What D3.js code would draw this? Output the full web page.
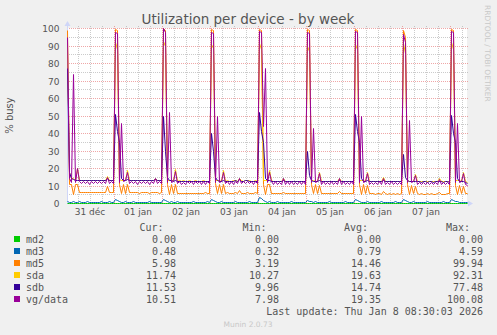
<!DOCTYPE html>
<html>
<head>
<meta charset="utf-8">
<script src="https://cdn.jsdelivr.net/npm/d3@7"></script>
<style>
html, body { margin: 0; padding: 0; background: #F0F0F0; }
svg { display: block; }
</style>
</head>
<body>
<div id="chart"></div>
<script>
// one value per hour, from 31 Dec 00:30 to 8 Jan 08:30 (rows = days)
const startTime = Date.UTC(2025, 11, 31, 0, 30);
const endTime = Date.UTC(2026, 0, 8, 8, 30);
const stepMs = 3600 * 1000;

const md2Values = [].concat(
    [0,0,0,0,0,0,0,0,0,0,0,0,0,0,0,0,0,0,0,0,0,0,0,0],
    [0,0,0,0,0,0,0,0,0,0,0,0,0,0,0,0,0,0,0,0,0,0,0,0],
    [0,0,0,0,0,0,0,0,0,0,0,0,0,0,0,0,0,0,0,0,0,0,0,0],
    [0,0,0,0,0,0,0,0,0,0,0,0,0,0,0,0,0,0,0,0,0,0,0,0],
    [0,0,0,0,0,0,0,0,0,0,0,0,0,0,0,0,0,0,0,0,0,0,0,0],
    [0,0,0,0,0,0,0,0,0,0,0,0,0,0,0,0,0,0,0,0,0,0,0,0],
    [0,0,0,0,0,0,0,0,0,0,0,0,0,0,0,0,0,0,0,0,0,0,0,0],
    [0,0,0,0,0,0,0,0,0,0,0,0,0,0,0,0,0,0,0,0,0,0,0,0],
    [0,0,0,0,0,0,0,0,0]
);

const md3Values = [].concat(
    [1.2, 0.8, 0.5, 0.9, 0.4, 0.5, 0.9, 0.4, 0.5, 0.4, 0.9, 0.4, 0.5, 0.4, 0.8, 0.5, 0.4, 0.9, 0.5, 0.4, 0.5, 0.9, 0.4, 0.5],
    [2.3, 1.8, 1.2, 0.8, 0.5, 0.9, 0.4, 0.5, 0.4, 0.9, 0.5, 0.4, 0.5, 0.8, 0.4, 0.5, 0.4, 0.9, 0.5, 0.4, 0.8, 0.5, 0.4, 0.5],
    [2.2, 1.5, 1.0, 0.6, 0.9, 0.4, 0.5, 0.9, 0.4, 0.5, 0.4, 0.8, 0.5, 0.4, 0.5, 0.9, 0.4, 0.5, 0.4, 0.8, 0.5, 0.4, 0.9, 0.5],
    [2.3, 1.6, 1.1, 0.7, 0.5, 0.9, 0.4, 0.5, 0.8, 0.4, 0.5, 0.4, 0.9, 0.5, 0.4, 0.5, 0.8, 0.4, 0.5, 0.9, 0.4, 0.5, 0.4, 0.8],
    [3.6, 2.6, 1.6, 1.0, 0.6, 0.9, 0.4, 0.5, 0.4, 0.9, 0.5, 0.4, 0.5, 0.8, 0.4, 0.5, 0.9, 0.4, 0.5, 0.4, 0.8, 0.5, 0.4, 0.5],
    [2.0, 1.4, 0.9, 0.5, 0.9, 0.4, 0.5, 0.4, 0.8, 0.5, 0.4, 0.9, 0.5, 0.4, 0.5, 0.8, 0.4, 0.5, 0.4, 0.9, 0.5, 0.4, 0.5, 0.8],
    [2.4, 1.8, 1.2, 0.8, 0.5, 0.4, 0.9, 0.5, 0.4, 0.5, 0.8, 0.4, 0.5, 0.9, 0.4, 0.5, 0.4, 0.8, 0.5, 0.4, 0.9, 0.5, 0.4, 0.5],
    [2.1, 1.5, 1.0, 0.6, 0.5, 0.9, 0.4, 0.5, 0.4, 0.8, 0.5, 0.4, 0.9, 0.5, 0.4, 0.5, 0.8, 0.4, 0.5, 0.4, 0.9, 0.5, 0.4, 0.5],
    [2.5, 1.9, 1.4, 0.9, 0.6, 0.4, 0.5, 0.4, 0.48]
);

const md5Values = [].concat(
    [99, 11, 11, 5, 11, 11, 6.5, 6.3, 6.4, 6.2, 6.5, 6.3, 6.4, 6.2, 6.3, 6.5, 6.2, 6.4, 6.3, 6.5, 9.5, 6.4, 6.3, 6.2],
    [99.5, 99, 11, 5.5, 11, 6, 11, 6.2, 6.3, 6.1, 6.4, 6.2, 6.0, 6.3, 6.1, 6.4, 6.2, 6.0, 6.3, 6.1, 6.4, 6.2, 6.0, 6.2],
    [99.9, 99, 11, 5, 11, 6, 11, 5.8, 5.9, 5.6, 5.8, 5.5, 5.7, 5.9, 5.6, 5.8, 5.5, 5.7, 5.9, 5.6, 5.8, 6.5, 5.9, 5.7],
    [99.5, 99, 11.5, 5.5, 11, 6, 11, 5.9, 6.1, 5.8, 6.0, 5.7, 6.2, 5.9, 7.5, 5.8, 6.0, 5.7, 6.1, 5.9, 6.0, 5.8, 6.2, 6.0],
    [99.5, 99, 11, 5, 11, 11, 6, 5.9, 5.7, 6.0, 5.8, 5.6, 6.5, 5.8, 5.7, 5.9, 5.6, 5.8, 5.7, 5.9, 5.6, 5.8, 5.7, 5.9],
    [99.5, 99, 11, 5.5, 11, 6, 10.5, 5.8, 5.6, 5.9, 5.7, 5.5, 5.8, 5.6, 5.9, 5.7, 6.8, 5.6, 5.8, 5.5, 5.7, 5.9, 5.6, 5.8],
    [99.5, 99, 11, 5, 11, 6, 10.5, 5.6, 5.5, 5.7, 5.4, 5.6, 5.5, 5.3, 6.6, 5.5, 5.4, 5.6, 5.3, 5.5, 5.4, 5.6, 5.3, 5.5],
    [99, 95, 11, 5, 10.5, 6, 10, 5.5, 5.3, 5.6, 5.4, 5.2, 5.5, 5.3, 5.6, 5.4, 5.2, 5.5, 6.5, 5.3, 5.4, 5.2, 5.5, 5.6],
    [99.5, 99, 10.5, 5, 10.5, 6, 10, 5.8, 5.98]
);

const sdaValues = [].concat(
    [90, 18, 14, 14, 13.3, 20, 13.3, 13.1, 13.2, 13.1, 13.3, 13.0, 13.2, 13.1, 13.3, 13.1, 13.2, 13.0, 13.3, 13.1, 15.5, 13.2, 13.1, 13.2],
    [92, 88, 13.5, 13.4, 13.3, 13.3, 19, 13.2, 13.1, 13.3, 13.0, 13.2, 13.1, 13.3, 13.0, 13.1, 13.2, 13.0, 13.1, 13.2, 14.2, 13.1, 13.0, 13.1],
    [92.3, 89.5, 13.3, 13.2, 13.0, 12.9, 19.3, 12.8, 12.9, 12.7, 12.9, 12.8, 12.7, 12.9, 12.8, 12.7, 12.9, 12.8, 12.7, 12.8, 12.9, 12.7, 12.8, 12.7],
    [91, 88.5, 13.1, 13.1, 12.9, 12.8, 18.8, 12.7, 12.9, 12.8, 12.7, 12.9, 13.0, 12.8, 14.3, 12.9, 12.8, 13.0, 13.2, 12.9, 12.8, 12.7, 12.9, 12.8],
    [91.5, 88, 13.2, 13.0, 13.1, 18.8, 12.9, 12.7, 12.8, 12.6, 12.7, 12.8, 14.2, 12.7, 12.6, 12.7, 12.8, 12.6, 12.7, 12.5, 12.7, 12.6, 12.7, 12.6],
    [90, 87, 13.1, 12.9, 12.8, 12.7, 17.8, 12.6, 12.7, 12.5, 12.6, 12.7, 12.6, 12.5, 12.7, 12.6, 14.0, 12.6, 12.7, 12.5, 12.6, 12.7, 12.5, 12.6],
    [91, 88, 13.1, 12.9, 12.9, 12.7, 17.8, 12.5, 12.6, 12.4, 12.6, 12.5, 12.7, 12.4, 14.8, 12.5, 12.6, 12.4, 12.5, 12.6, 12.4, 12.5, 12.6, 12.4],
    [91.4, 86, 13.0, 12.7, 12.6, 12.5, 16.8, 12.4, 12.5, 12.3, 12.5, 12.4, 12.3, 12.5, 12.4, 12.3, 12.4, 12.5, 14.2, 12.4, 12.3, 12.4, 12.5, 12.3],
    [92, 88, 13.0, 12.9, 12.9, 12.6, 17.8, 12.3, 11.74]
);

const sdbValues = [].concat(
    [77, 18, 14, 13.5, 13.2, 13.4, 13.2, 13.0, 13.1, 13.0, 13.2, 12.9, 13.1, 13.0, 13.2, 13.0, 13.1, 12.9, 13.2, 13.0, 14.0, 13.1, 13.0, 13.1],
    [51, 41, 35, 14, 13.3, 13.2, 13.6, 13.1, 13.0, 13.2, 12.9, 13.1, 13.0, 13.2, 12.9, 13.0, 13.1, 12.9, 13.0, 13.1, 13.6, 13.0, 12.9, 13.0],
    [50, 30, 15, 13.2, 12.9, 12.8, 13.2, 12.7, 12.8, 12.6, 12.8, 12.7, 12.6, 12.8, 12.7, 12.6, 12.8, 12.7, 12.6, 12.7, 12.8, 12.6, 12.7, 12.6],
    [40, 30, 15, 13.0, 12.8, 12.7, 13.0, 12.6, 12.8, 12.7, 12.6, 12.8, 12.9, 12.7, 13.5, 12.8, 12.7, 12.9, 13.1, 12.8, 12.7, 12.6, 12.8, 12.7],
    [52, 41, 35, 14, 13.0, 13.2, 12.8, 12.6, 12.7, 12.5, 12.6, 12.7, 13.2, 12.6, 12.5, 12.6, 12.7, 12.5, 12.6, 12.4, 12.6, 12.5, 12.6, 12.5],
    [30, 16, 13, 12.8, 12.7, 12.6, 12.9, 12.5, 12.6, 12.4, 12.5, 12.6, 12.5, 12.4, 12.6, 12.5, 13.2, 12.5, 12.6, 12.4, 12.5, 12.6, 12.4, 12.5],
    [51, 41, 35, 14, 12.8, 12.6, 12.9, 12.4, 12.5, 12.3, 12.5, 12.4, 12.6, 12.3, 13.0, 12.4, 12.5, 12.3, 12.4, 12.5, 12.3, 12.4, 12.5, 12.3],
    [28, 15, 13, 12.6, 12.5, 12.4, 12.8, 12.3, 12.4, 12.2, 12.4, 12.3, 12.2, 12.4, 12.3, 12.2, 12.3, 12.4, 12.8, 12.3, 12.2, 12.3, 12.4, 12.2],
    [50.5, 40, 35, 14, 12.8, 12.5, 12.6, 12.2, 11.53]
);

const vgDataValues = [].concat(
    [95, 14, 12, 74, 12, 20, 12.5, 11.2, 12.6, 11.3, 12.4, 11.0, 12.5, 11.4, 12.6, 11.2, 12.3, 11.5, 12.8, 11.3, 15.0, 11.6, 12.5, 11.4],
    [98, 97, 12, 46, 12.3, 13, 18, 11.5, 12.6, 11.2, 12.4, 11.0, 12.7, 11.4, 12.5, 11.3, 12.4, 11.1, 12.8, 11.5, 14.0, 11.4, 12.5, 11.2],
    [100, 98, 12, 52, 12.2, 12.8, 18.5, 11.3, 12.4, 11.0, 12.2, 10.9, 12.6, 11.2, 12.3, 11.0, 12.5, 11.3, 12.4, 11.1, 12.3, 11.0, 12.6, 11.3],
    [98, 97, 12, 50, 12.0, 12.6, 18, 11.2, 12.5, 11.0, 12.3, 11.1, 12.6, 11.3, 14.0, 11.2, 12.5, 11.4, 12.7, 11.2, 12.4, 11.0, 12.6, 11.3],
    [98.5, 98, 44, 77, 12.0, 18, 12.3, 11.0, 12.4, 10.9, 12.2, 11.1, 14.0, 11.0, 12.3, 10.8, 12.4, 11.0, 12.2, 10.9, 12.3, 11.1, 12.4, 10.9],
    [97.5, 97, 12, 43, 12.1, 12.6, 17, 11.0, 12.3, 10.8, 12.2, 10.9, 12.4, 11.0, 12.2, 10.8, 14.0, 10.9, 12.3, 11.0, 12.2, 10.8, 12.4, 11.0],
    [98.5, 98, 12, 50, 12.0, 12.5, 17, 10.9, 12.2, 10.7, 12.1, 10.8, 12.3, 10.9, 14.2, 10.8, 12.2, 10.7, 12.3, 10.9, 12.1, 10.7, 12.2, 10.8],
    [96.5, 92, 12, 47.5, 11.8, 12.3, 16, 10.8, 12.1, 10.6, 12.0, 10.7, 12.2, 10.8, 12.0, 10.6, 12.1, 10.7, 13.5, 10.8, 12.0, 10.6, 12.1, 10.7],
    [98.5, 98, 12, 45.7, 12.0, 12.3, 17, 11.0, 10.51]
);

const seriesNames = ["md2", "md3", "md5", "sda", "sdb", "vg/data"];
const seriesColors = ["#00CC00", "#0066B3", "#FF8000", "#FFCC00", "#330099", "#990099"];
const seriesValues = [md2Values, md3Values, md5Values, sdaValues, sdbValues, vgDataValues];

const legendCur = ["0.00", "0.48", "5.98", "11.74", "11.53", "10.51"];
const legendMin = ["0.00", "0.32", "3.19", "10.27", "9.96", "7.98"];
const legendAvg = ["0.00", "0.79", "14.46", "19.63", "14.74", "19.35"];
const legendMax = ["0.00", "4.59", "99.94", "92.31", "77.48", "100.08"];

const xTickLabels = ["31 déc", "01 jan", "02 jan", "03 jan", "04 jan", "05 jan", "06 jan", "07 jan"];
const yTicks = [0, 10, 20, 30, 40, 50, 60, 70, 80, 90, 100];

const width = 497, height = 335;
const plot = { left: 67, right: 467, top: 28, bottom: 203 };
const sans = "'DejaVu Sans', sans-serif";
const mono = "'DejaVu Sans Mono', monospace";
const fontColor = "#555555";
const axisColor = "#CFD6F8";

let svg = d3.select("#chart")
    .append("svg")
    .attr("width", width)
    .attr("height", height)
    .style("background", "#F0F0F0");

//=================================================
// Scales
//=================================================
let scaleX = d3.scaleTime()
    .domain([new Date(startTime), new Date(endTime)])
    .range([plot.left, plot.right]);
let scaleY = d3.scaleLinear()
    .domain([0, 100])
    .range([plot.bottom, plot.top]);

//=================================================
// Canvas + grid
//=================================================
svg.append("rect")
    .attr("x", plot.left).attr("y", plot.top)
    .attr("width", plot.right - plot.left).attr("height", plot.bottom - plot.top)
    .attr("fill", "#FFFFFF");

let grid = svg.append("g");
let minorX = d3.utcHour.every(6).range(new Date(startTime), new Date(endTime));
grid.selectAll(".vminor").data(minorX).enter().append("line")
    .attr("x1", d => Math.round(scaleX(d)) + 0.5).attr("x2", d => Math.round(scaleX(d)) + 0.5)
    .attr("y1", plot.top - 2).attr("y2", plot.bottom)
    .attr("stroke", d => d.getUTCHours() === 0 ? "rgba(224,80,80,0.5)" : "rgba(140,140,140,0.45)")
    .attr("stroke-dasharray", "1,1");

let minorY = d3.range(5, 101, 5);
grid.selectAll(".hminor").data(minorY).enter().append("line")
    .attr("x1", plot.left).attr("x2", plot.right + 1)
    .attr("y1", d => Math.round(scaleY(d)) + 0.5).attr("y2", d => Math.round(scaleY(d)) + 0.5)
    .attr("stroke", d => d % 10 === 0 ? "rgba(224,80,80,0.5)" : "rgba(140,140,140,0.45)")
    .attr("stroke-dasharray", "1,1");

//=================================================
// Axes with arrows
//=================================================
svg.append("line")
    .attr("x1", plot.left + 0.5).attr("x2", plot.left + 0.5)
    .attr("y1", plot.bottom + 0.5).attr("y2", 25)
    .attr("stroke", axisColor);
svg.append("path")
    .attr("d", `M${plot.left - 2.5},26 L${plot.left + 0.5},21 L${plot.left + 3.5},26 Z`)
    .attr("fill", axisColor);
svg.append("line")
    .attr("x1", plot.left).attr("x2", 469)
    .attr("y1", plot.bottom + 0.5).attr("y2", plot.bottom + 0.5)
    .attr("stroke", axisColor);
svg.append("path")
    .attr("d", `M468,${plot.bottom - 2.5} L473,${plot.bottom + 0.5} L468,${plot.bottom + 3.5} Z`)
    .attr("fill", axisColor);

svg.append("g").selectAll("text").data(yTicks).enter().append("text")
    .attr("x", 59.5)
    .attr("y", d => Math.round(scaleY(d)) + 3.5)
    .attr("text-anchor", "end")
    .attr("font-family", sans).attr("font-size", 9)
    .attr("fill", fontColor)
    .text(d => d);

svg.append("g").selectAll("text").data(xTickLabels).enter().append("text")
    .attr("x", (d, i) => scaleX(new Date(Date.UTC(2025, 11, 31 + i, 12))))
    .attr("y", 215)
    .attr("text-anchor", "middle")
    .attr("font-family", sans).attr("font-size", 9)
    .attr("fill", fontColor)
    .text(d => d);

//=================================================
// Series lines (snapped to pixel centres like rrdtool)
//=================================================
let line = d3.line()
    .x((d, i) => Math.round(scaleX(new Date(startTime + i * stepMs))) + 0.5)
    .y(d => Math.round(scaleY(d)) + 0.5);

let lines = svg.append("g");
seriesValues.forEach((values, k) => {
    lines.append("path")
        .attr("d", line(values))
        .attr("fill", "none")
        .attr("stroke", seriesColors[k])
        .attr("stroke-width", 1);
});

//=================================================
// Titles
//=================================================
svg.append("text")
    .attr("x", 248).attr("y", 24)
    .attr("text-anchor", "middle")
    .attr("font-family", sans).attr("font-size", 13.5)
    .attr("fill", fontColor)
    .text("Utilization per device - by week");

svg.append("text")
    .attr("transform", "translate(13," + ((plot.top + plot.bottom) / 2) + ") rotate(-90)")
    .attr("text-anchor", "middle")
    .attr("font-family", sans).attr("font-size", 10)
    .attr("fill", fontColor)
    .text("% busy");

svg.append("text")
    .attr("transform", "translate(485,5) rotate(90)")
    .attr("font-family", sans).attr("font-size", 7.5)
    .attr("fill", "#C8C8C8")
    .text("RRDTOOL / TOBI OETIKER");

//=================================================
// Legend
//=================================================
let legend = svg.append("g")
    .attr("font-family", mono).attr("font-size", 10)
    .attr("fill", fontColor)
    .style("white-space", "pre");

let headers = ["Cur:", "Min:", "Avg:", "Max:"];
let headerX = [163.5, 266.5, 368, 470];
let valueX = [176, 279, 381, 483];
headers.forEach((h, j) => {
    legend.append("text").attr("x", headerX[j]).attr("y", 231)
        .attr("text-anchor", "end").text(h);
});

let columns = [legendCur, legendMin, legendAvg, legendMax];
seriesNames.forEach((name, k) => {
    let rowY = 243 + k * 12;
    legend.append("rect")
        .attr("x", 14).attr("y", rowY - 7)
        .attr("width", 6).attr("height", 6)
        .attr("fill", seriesColors[k]);
    legend.append("text").attr("x", 26).attr("y", rowY).text(name);
    columns.forEach((col, j) => {
        legend.append("text").attr("x", valueX[j]).attr("y", rowY)
            .attr("text-anchor", "end").text(col[k]);
    });
});

legend.append("text").attr("x", 483).attr("y", 315)
    .attr("text-anchor", "end")
    .text("Last update: Thu Jan  8 08:30:03 2026");

svg.append("text")
    .attr("x", 248).attr("y", 327)
    .attr("text-anchor", "middle")
    .attr("font-family", sans).attr("font-size", 7.5)
    .attr("fill", "#C8C8C8")
    .text("Munin 2.0.73");
</script>
</body>
</html>
